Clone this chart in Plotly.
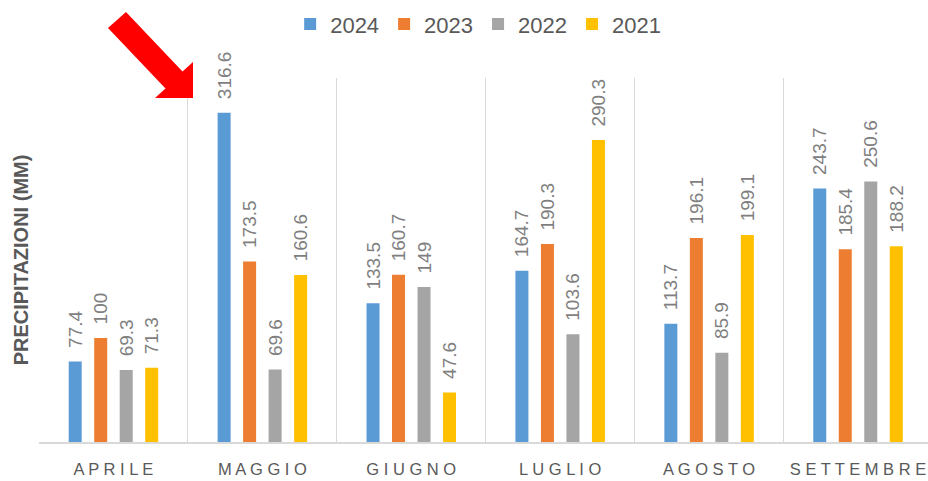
import plotly.graph_objects as go

months = ["APRILE", "MAGGIO", "GIUGNO", "LUGLIO", "AGOSTO", "SETTEMBRE"]
years = ["2024", "2023", "2022", "2021"]
v2024 = [77.4, 316.6, 133.5, 164.7, 113.7, 243.7]
v2023 = [100, 173.5, 160.7, 190.3, 196.1, 185.4]
v2022 = [69.3, 69.6, 149, 103.6, 85.9, 250.6]
v2021 = [71.3, 160.6, 47.6, 290.3, 199.1, 188.2]
colors = ["#5B9BD5", "#ED7D31", "#A5A5A5", "#FFC000"]
series = [v2024, v2023, v2022, v2021]

W, H = 928, 481
L, R, T, B = 39, 0, 78, 39
PW, PH = W - L - R, H - T - B

def spaced(s):
    return " ".join(list(s))

labels = [spaced(m) for m in months]

fig = go.Figure()
for name, vals, col in zip(years, series, colors):
    fig.add_trace(go.Bar(
        x=labels, y=vals, name=name,
        marker=dict(color=col, line=dict(width=0)),
        text=["\u00a0\u00a0" + (f"{v:g}") for v in vals],
        textposition="outside", textangle=-90,
        textfont=dict(family="Liberation Sans", size=19, color="#7F7F7F"),
        constraintext="none", cliponaxis=False,
        hoverinfo="x+y+name",
    ))

def px2paper(px, py):
    return (px - L) / PW, (H - B - py) / PH

arrow_px = [(108, 28), (126, 12), (182.5, 71.5), (193, 62), (193, 98),
            (155, 98), (165.5, 88.5)]
pts = [px2paper(x, y) for x, y in arrow_px]
path = "M " + " L ".join(f"{x:.5f},{y:.5f}" for x, y in pts) + " Z"

fig.update_layout(
    width=W, height=H,
    margin=dict(l=L, r=R, t=T, b=B, autoexpand=False),
    paper_bgcolor="white", plot_bgcolor="white",
    barmode="group", bargap=0.315, bargroupgap=0.49,
    font=dict(family="Liberation Sans", color="#595959"),
    showlegend=True,
    legend=dict(orientation="h", x=0.494, xanchor="center", y=1.148, yanchor="middle",
                font=dict(size=22, color="#595959"), traceorder="normal",
                itemwidth=30, bgcolor="rgba(0,0,0,0)"),
    xaxis=dict(type="category", tickson="boundaries", showgrid=True, gridcolor="#D9D9D9",
               gridwidth=1, showline=True, linecolor="#D9D9D9", linewidth=2,
               ticks="", range=[-0.5, 5.47], ticklabelstandoff=11,
               tickfont=dict(family="Liberation Sans", size=16.5, color="#595959")),
    yaxis=dict(range=[0, 350], showgrid=False, showticklabels=False, zeroline=False,
               showline=False, ticks="",
               title=dict(text="<b>PRECIPITAZIONI (MM)</b>", standoff=4,
                          font=dict(family="Liberation Sans", size=20, color="#595959"))),
    shapes=[dict(type="path", path=path, xref="paper", yref="paper",
                 fillcolor="#FF0000", line=dict(width=0), layer="above")],
)

fig.write_html("out.html", config={"displayModeBar": False},
               post_script="document.body.style.margin='0';document.body.style.overflow='hidden';")
